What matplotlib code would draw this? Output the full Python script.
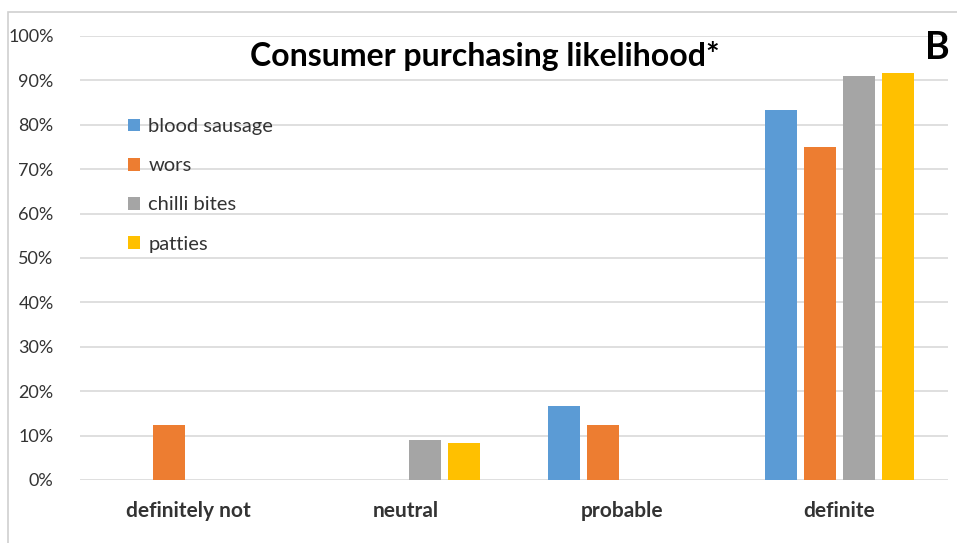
import matplotlib
matplotlib.use("Agg")
import matplotlib.pyplot as plt
import numpy as np
from matplotlib.patches import Rectangle

categories = ["definitely not", "neutral", "probable", "definite"]
series = ["blood sausage", "wors", "chilli bites", "patties"]
blood_sausage = [0.0, 0.0, 16.7, 83.3]
wors = [12.5, 0.0, 12.5, 75.0]
chilli_bites = [0.0, 9.1, 0.0, 90.9]
patties = [0.0, 8.3, 0.0, 91.7]
yticks = [0, 10, 20, 30, 40, 50, 60, 70, 80, 90, 100]
ytick_labels = [f"{v}%" for v in yticks]
colors = ["#5B9BD5", "#ED7D31", "#A5A5A5", "#FFC000"]

plt.rcParams['font.family'] = ['Lato', 'DejaVu Sans']

fig = plt.figure(figsize=(9.57, 5.43), dpi=100)
ax = fig.add_axes([80/957, 63/543, 868/957, 444/543])

x = np.arange(len(categories))
step = 0.18
width = 0.147
data = [blood_sausage, wors, chilli_bites, patties]
for i, (name, vals, c) in enumerate(zip(series, data, colors)):
    ax.bar(x + (i - 1.5) * step, vals, width=width, color=c, label=name, zorder=3)

ax.set_xlim(-0.5, 3.5)
ax.set_ylim(0, 100)
ax.set_yticks(yticks)
ax.set_yticklabels(ytick_labels, fontsize=13, color="#333333")
ax.set_xticks(x)
ax.set_xticklabels(categories, fontsize=15, fontweight="bold", color="#333333")
ax.tick_params(axis="both", length=0)
ax.tick_params(axis="y", pad=19)
ax.tick_params(axis="x", pad=15)
ax.grid(axis="y", color="#D9D9D9", linewidth=1.2, zorder=0)
for s in ax.spines.values():
    s.set_visible(False)

fig.text(485/957, 1 - 56/543, "Consumer purchasing likelihood*", ha="center", va="center",
         fontsize=23, fontweight="bold", color="black")
fig.text(937/957, 1 - 48/543, "B", ha="center", va="center",
         fontsize=27, fontweight="bold", color="black")

leg = ax.legend(loc="upper left", bbox_to_anchor=(120/957, 1 - 110/543),
                bbox_transform=fig.transFigure, frameon=False, fontsize=14.5,
                handlelength=0.6, handleheight=0.6, handletextpad=0.4,
                labelspacing=1.1, borderaxespad=0)
for t in leg.get_texts():
    t.set_color("#333333")

fig.patches.append(Rectangle((8/957, -0.1), 1.2, 1 - 12/543 + 0.1, transform=fig.transFigure,
                             fill=False, edgecolor="#D0D0D0", linewidth=1.2))

fig.savefig("out.png", dpi=100)
